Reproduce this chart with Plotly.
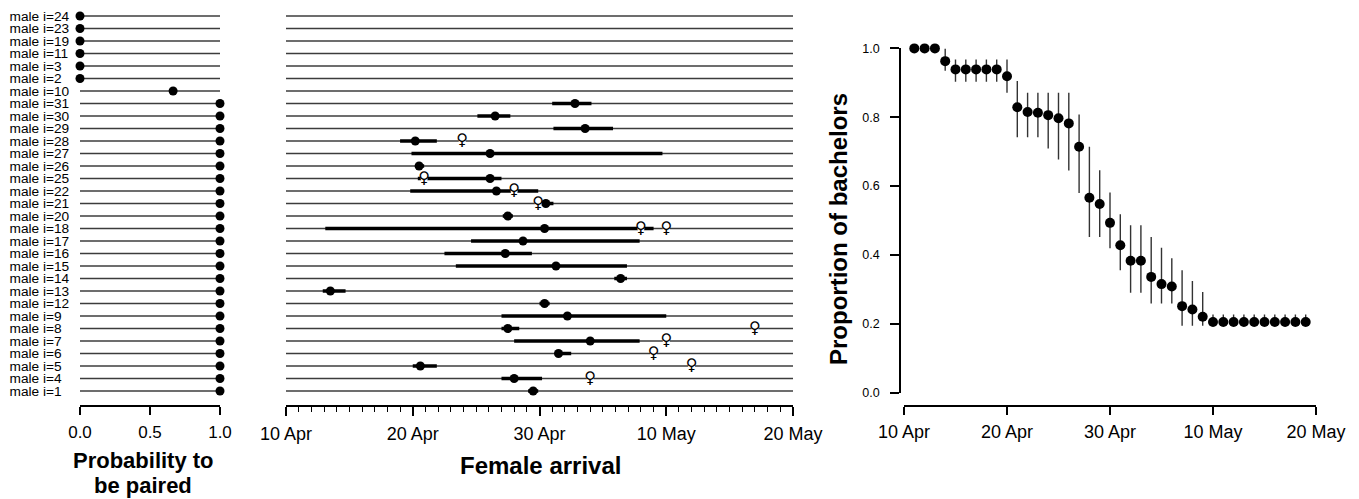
import plotly.graph_objects as go

W, H = 1359, 499


def fx(px):
    return px / W


def fy(py):
    return 1 - py / H


# ---------------- data ----------------
# rows, top to bottom
males = [24, 23, 19, 11, 3, 2, 10, 31, 30, 29, 28, 27, 26, 25, 22, 21, 20, 18,
         17, 16, 15, 14, 13, 12, 9, 8, 7, 6, 5, 4, 1]
prob_paired = [0, 0, 0, 0, 0, 0, 0.665, 1, 1, 1, 1, 1, 1, 1, 1, 1, 1, 1,
               1, 1, 1, 1, 1, 1, 1, 1, 1, 1, 1, 1, 1]

# female arrival (day counted from 31 March: 30 = 30 Apr, 40 = 10 May)
arr_male = [31, 30, 29, 28, 27, 26, 25, 22, 21, 20, 18, 17, 16, 15, 14, 13, 12,
            9, 8, 7, 6, 5, 4, 1]
arr_est = [32.8, 26.5, 33.6, 20.2, 26.1, 20.5, 26.1, 26.6, 30.5, 27.5, 30.4,
           28.7, 27.3, 31.3, 36.4, 13.5, 30.4, 32.2, 27.5, 34.0, 31.5, 20.6,
           28.0, 29.5]
arr_lo = [31.0, 25.1, 31.1, 19.0, 19.9, 20.2, 20.4, 19.8, 29.9, 27.1, 13.1,
          24.6, 22.5, 23.4, 35.9, 12.9, 30.0, 27.0, 27.0, 28.0, 31.2, 20.0,
          27.0, 29.1]
arr_hi = [34.1, 27.7, 35.8, 21.9, 39.7, 20.9, 27.0, 29.9, 31.1, 27.9, 39.0,
          37.9, 29.4, 36.9, 36.9, 14.7, 30.8, 40.0, 28.4, 37.9, 32.5, 21.9,
          30.2, 29.9]
fem_male = [28, 25, 22, 21, 18, 18, 8, 7, 6, 5, 4]
fem_day = [23.9, 20.9, 28.0, 29.9, 38.0, 40.0, 47.0, 40.0, 39.0, 42.0, 34.0]

# proportion of bachelors per day
bach_day = [11, 12, 13, 14, 15, 16, 17, 18, 19, 20, 21, 22, 23, 24, 25, 26, 27,
            28, 29, 30, 31, 32, 33, 34, 35, 36, 37, 38, 39, 40, 41, 42, 43, 44,
            45, 46, 47, 48, 49]
bach_prop = [1.0, 1.0, 1.0, 0.963, 0.939, 0.939, 0.939, 0.939, 0.939, 0.919,
             0.829, 0.815, 0.813, 0.806, 0.797, 0.782, 0.714, 0.566, 0.548,
             0.493, 0.428, 0.383, 0.383, 0.336, 0.315, 0.308, 0.251, 0.241,
             0.220, 0.205, 0.205, 0.205, 0.205, 0.205, 0.205, 0.205, 0.205,
             0.205, 0.205]
bach_lo = [1.0, 1.0, 1.0, 0.935, 0.903, 0.903, 0.903, 0.903, 0.903, 0.871,
           0.742, 0.742, 0.742, 0.709, 0.677, 0.645, 0.580, 0.452, 0.452,
           0.419, 0.355, 0.290, 0.290, 0.259, 0.259, 0.259, 0.194, 0.194,
           0.194, 0.194, 0.194, 0.194, 0.194, 0.194, 0.194, 0.194, 0.194,
           0.194, 0.194]
bach_hi = [1.0, 1.0, 1.0, 1.0, 0.968, 0.968, 0.968, 0.968, 0.968, 0.968,
           0.905, 0.871, 0.871, 0.871, 0.871, 0.871, 0.808, 0.714, 0.646,
           0.581, 0.518, 0.486, 0.486, 0.452, 0.421, 0.390, 0.355, 0.324,
           0.292, 0.227, 0.227, 0.227, 0.227, 0.227, 0.227, 0.227, 0.227,
           0.227, 0.227]

date_ticks = [10, 20, 30, 40, 50]
date_labels = ["10 Apr", "20 Apr", "30 Apr", "10 May", "20 May"]
prob_ticks = [0, 0.5, 1]
prob_labels = ["0.0", "0.5", "1.0"]
prop_ticks = [0, 0.2, 0.4, 0.6, 0.8, 1.0]
prop_labels = ["0.0", "0.2", "0.4", "0.6", "0.8", "1.0"]

# ---------------- figure ----------------
FONT = "Liberation Sans, Arial, sans-serif"
LINE_C = "#3c3c3c"
labels = [f"male i={m}" for m in males]
lab_of = {m: f"male i={m}" for m in males}

P_RANGE = [0, 1]
D_RANGE = [10, 50]

fig = go.Figure()

# left panel: row lines
lx, ly = [], []
for lab in labels:
    lx += [P_RANGE[0], P_RANGE[1], None]
    ly += [lab, lab, None]
fig.add_trace(go.Scatter(x=lx, y=ly, mode="lines", xaxis="x", yaxis="y",
                         line=dict(color=LINE_C, width=1.4), hoverinfo="skip"))
fig.add_trace(go.Scatter(x=prob_paired, y=labels, mode="markers", xaxis="x", yaxis="y",
                         marker=dict(color="black", size=9), cliponaxis=False))

# middle panel: row lines
mx, my = [], []
for lab in labels:
    mx += [D_RANGE[0], D_RANGE[1], None]
    my += [lab, lab, None]
fig.add_trace(go.Scatter(x=mx, y=my, mode="lines", xaxis="x2", yaxis="y",
                         line=dict(color=LINE_C, width=1.4), hoverinfo="skip"))
# credible intervals
cx, cy = [], []
for m, lo, hi in zip(arr_male, arr_lo, arr_hi):
    cx += [lo, hi, None]
    cy += [lab_of[m], lab_of[m], None]
fig.add_trace(go.Scatter(x=cx, y=cy, mode="lines", xaxis="x2", yaxis="y",
                         line=dict(color="black", width=3.5), hoverinfo="skip"))
fig.add_trace(go.Scatter(x=arr_est, y=[lab_of[m] for m in arr_male], mode="markers",
                         xaxis="x2", yaxis="y", marker=dict(color="black", size=9),
                         cliponaxis=False))
# observed females
fig.add_trace(go.Scatter(x=fem_day, y=[lab_of[m] for m in fem_male], mode="markers+text",
                         xaxis="x2", yaxis="y", text=["♀"] * len(fem_day),
                         textposition="middle center",
                         textfont=dict(family="DejaVu Sans", size=16, color="black"),
                         marker=dict(color="white", size=7, line=dict(width=0)),
                         cliponaxis=False))

# right panel
fig.add_trace(go.Scatter(
    x=bach_day, y=bach_prop, mode="markers", xaxis="x3", yaxis="y3",
    marker=dict(color="black", size=10),
    error_y=dict(type="data", symmetric=False,
                 array=[h - v for h, v in zip(bach_hi, bach_prop)],
                 arrayminus=[v - l for v, l in zip(bach_prop, bach_lo)],
                 color="#333333", thickness=1.4, width=0),
    cliponaxis=False))

axis_common = dict(showgrid=False, zeroline=False, color="black", automargin=False,
                   linecolor="black", tickcolor="black")

fig.update_layout(
    width=W, height=H,
    margin=dict(l=0, r=0, t=0, b=0, autoexpand=False),
    paper_bgcolor="white", plot_bgcolor="white",
    showlegend=False,
    font=dict(family=FONT, color="black"),
    xaxis=dict(domain=[fx(80), fx(220)], range=P_RANGE, anchor="free", position=fy(406),
               showline=True, linewidth=1.5, ticks="outside", ticklen=8, tickwidth=1.5,
               tickvals=prob_ticks, ticktext=prob_labels, tickfont=dict(size=17),
               ticklabelstandoff=3, **axis_common),
    yaxis=dict(type="category", categoryorder="array", categoryarray=labels,
               tickmode="array", tickvals=labels, ticktext=labels,
               range=[30.5, -0.5], domain=[fy(397.25), fy(9.75)],
               anchor="free", position=fx(8.5), side="right", showline=False,
               ticks="", tickfont=dict(size=13.7), **axis_common),
    xaxis2=dict(domain=[fx(286), fx(793)], range=D_RANGE, anchor="free", position=fy(406),
                showline=True, linewidth=2, ticks="outside", ticklen=9, tickwidth=2,
                tickvals=date_ticks, ticktext=date_labels, tickfont=dict(size=18),
                ticklabelstandoff=2,
                minor=dict(tickmode="linear", tick0=10, dtick=1, ticks="outside",
                           ticklen=5, tickwidth=1.2, tickcolor="black", showgrid=False),
                **axis_common),
    xaxis3=dict(domain=[fx(904), fx(1316)], range=D_RANGE, anchor="free", position=fy(406),
                showline=True, linewidth=1.5, ticks="outside", ticklen=8, tickwidth=1.5,
                tickvals=date_ticks, ticktext=date_labels, tickfont=dict(size=18),
                ticklabelstandoff=2, **axis_common),
    yaxis3=dict(domain=[fy(392.5), fy(48.4)], range=[0, 1], anchor="free", position=fx(900),
                showline=True, linewidth=1.5, ticks="outside", ticklen=9, tickwidth=1.5,
                tickvals=prop_ticks, ticktext=prop_labels, tickfont=dict(size=12.5),
                ticklabelstandoff=8, **axis_common),
    annotations=[
        dict(text="<b>Probability to</b>", x=fx(143), y=fy(460), xref="paper", yref="paper",
             showarrow=False, xanchor="center", yanchor="middle", font=dict(size=22)),
        dict(text="<b>be paired</b>", x=fx(143), y=fy(485), xref="paper", yref="paper",
             showarrow=False, xanchor="center", yanchor="middle", font=dict(size=22)),
        dict(text="<b>Female arrival</b>", x=fx(540), y=fy(465), xref="paper", yref="paper",
             showarrow=False, xanchor="center", yanchor="middle", font=dict(size=24)),
        dict(text="<b>Proportion of bachelors</b>", x=fx(838), y=fy(229), xref="paper",
             yref="paper", showarrow=False, xanchor="center", yanchor="middle",
             textangle=-90, font=dict(size=24)),
    ],
)

fig.write_html("out.html", config={"displayModeBar": False},
               post_script="document.body.style.margin='0';document.body.style.overflow='hidden';")
